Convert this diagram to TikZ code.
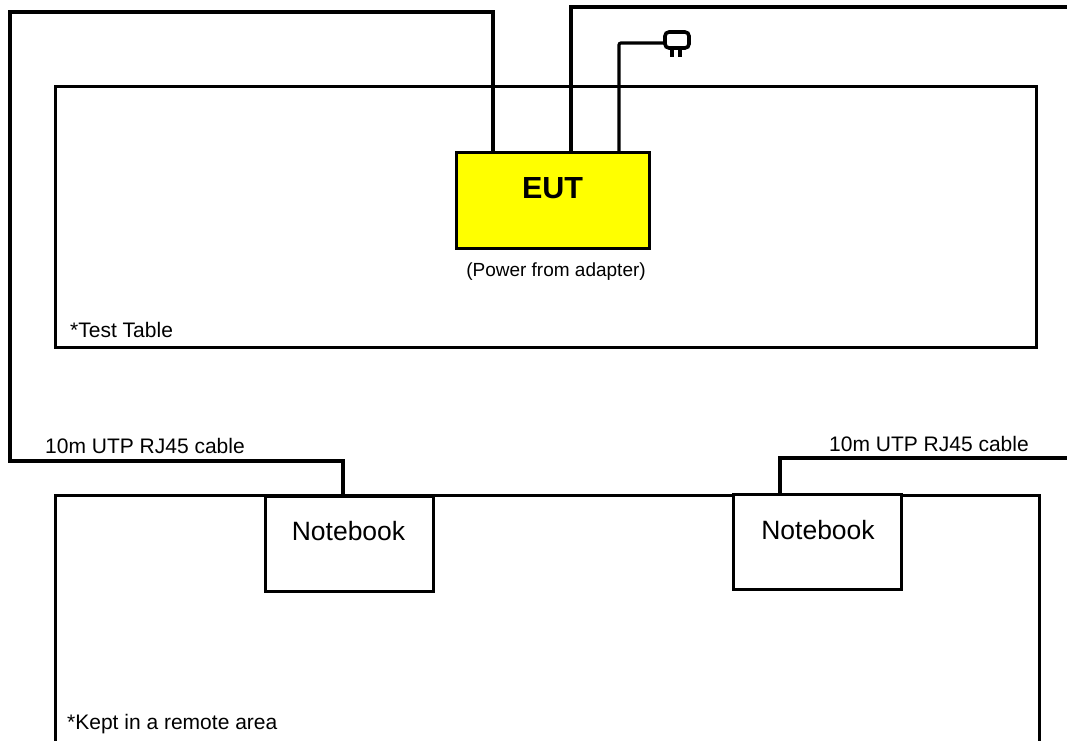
\documentclass[tikz,border=0pt]{standalone}
\usepackage{fontspec}
\setmainfont{Liberation Sans}
\usetikzlibrary{
    positioning,
    calc
}
\definecolor{eutyellow}{RGB}{255,255,0}
\begin{document}
\begin{tikzpicture}[
    x=1pt, y=-1pt,
    % Style for the big boxes and cables
    box_style/.style={draw=black, line width=3pt, inner sep=0pt, outer sep=0pt, anchor=north west},
    cable_style/.style={draw=black, line width=3.2pt, line join=miter},
    % Style for the text labels
    label_style/.style={font=\fontsize{21}{24}\selectfont, inner sep=0pt},
    notebook_style/.style={box_style, fill=white, minimum width=168pt, minimum height=95pt},
    notebook_text/.style={font=\fontsize{26.5}{30}\selectfont, inner sep=0pt}
]
    \useasboundingbox (0,0) rectangle (1067,740);

    % 1. Table, area and the boxes on them.
    \node[box_style, minimum width=981pt, minimum height=261pt] (table) at (55,86.5) {};
    \draw[box_style] (55,743) -- (55,495) -- (1039,495) -- (1039,743);
    \node[box_style, fill=eutyellow, minimum width=193pt, minimum height=96pt] (eut) at (456,152) {};
    \node[notebook_style] (note_left) at (265,496) {};
    \node[notebook_style] (note_right) at (733,494) {};

    % 2. Text labels.
    \node[font=\bfseries\fontsize{30.5}{34}\selectfont, inner sep=0pt] (eut_text) at (552.5,188) {EUT};
    \node[label_style, font=\fontsize{19}{22}\selectfont] (power) at (556,272) {(Power from adapter)};
    \node[label_style, anchor=west] (table_text) at (70,329.5) {*Test Table};
    \node[label_style, anchor=west] (area_text) at (67,724) {*Kept in a remote area};
    \node[label_style, anchor=west] (cable_left) at (45,446) {10m UTP RJ45 cable};
    \node[label_style, anchor=west] (cable_right) at (829,444) {10m UTP RJ45 cable};
    \node[notebook_text] (note_left_text) at (348.5,531) {Notebook};
    \node[notebook_text] (note_right_text) at (818,530) {Notebook};

    % 3. Cables.
    \coordinate (left_in) at ($(eut.north west)+(37,0)$);
    \coordinate (mid_in) at ($(eut.north west)+(115,0)$);
    \coordinate (plug_in) at ($(eut.north west)+(163,0)$);
    \coordinate (note_left_in) at ($(note_left.north west)+(78,0)$);
    \coordinate (note_right_in) at ($(note_right.north west)+(47,0)$);
    \draw[cable_style] (left_in) |- (10,12) |- (343,461) -- (note_left_in);
    \draw[cable_style] (mid_in) |- (1070,7);
    \draw[cable_style] (note_right_in) |- (1070,458);
    \draw[cable_style, rounded corners=2pt] (plug_in) |- (665,43) coordinate (plug_end);

    % 4. Plug.
    \draw[cable_style, line width=3.6pt, rounded corners=4pt] (665,32) rectangle (689,48);
    \draw[cable_style] (672,48) -- (672,57);
    \draw[cable_style] (680,48) -- (680,57);
\end{tikzpicture}
\end{document}
